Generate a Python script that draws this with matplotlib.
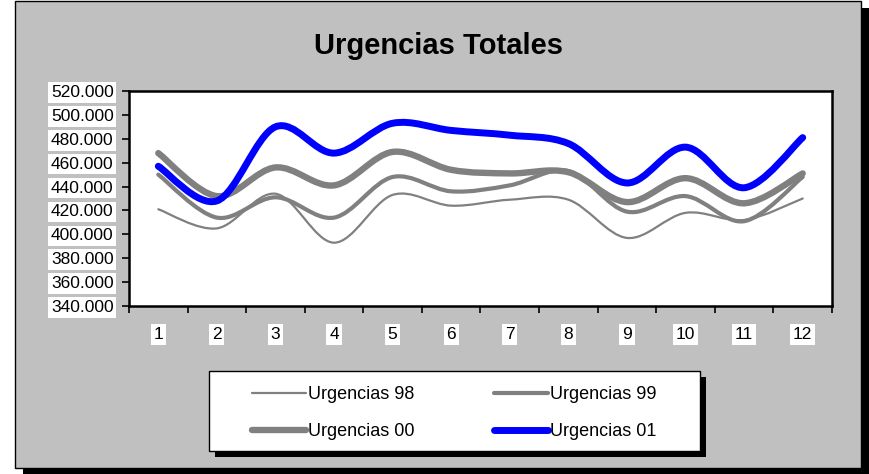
import matplotlib
matplotlib.use("Agg")
import matplotlib.pyplot as plt
from matplotlib.path import Path
from matplotlib.patches import PathPatch, Rectangle
from matplotlib.lines import Line2D
from matplotlib.ticker import FuncFormatter, FixedLocator

plt.rcParams["font.family"] = ["Liberation Sans", "DejaVu Sans"]

months = list(range(1, 13))
urg_98 = [421000, 405000, 434000, 393000, 433000, 424000, 429000, 429000, 397000, 418000, 412000, 430000]
urg_99 = [450000, 414000, 431000, 414000, 448000, 436000, 441000, 453000, 419000, 432000, 411000, 448000]
urg_00 = [468000, 432000, 456000, 441000, 469000, 454000, 451000, 452000, 427000, 447000, 426000, 451000]
urg_01 = [457000, 428000, 490000, 468000, 493000, 487000, 483000, 476000, 443000, 473000, 439000, 481000]

series = [
    ("Urgencias 98", urg_98, "#808080", 1.6),
    ("Urgencias 99", urg_99, "#808080", 3.0),
    ("Urgencias 00", urg_00, "#808080", 4.6),
    ("Urgencias 01", urg_01, "#0000FF", 5.0),
]

W, H = 870, 474
BG = "#C0C0C0"


def smooth_path(xs, ys):
    # excel style smoothed line: cubic bezier through every point
    pts = list(zip(xs, ys))
    n = len(pts)
    verts = [pts[0]]
    codes = [Path.MOVETO]
    for i in range(n - 1):
        p0 = pts[i - 1] if i > 0 else pts[i]
        p1 = pts[i]
        p2 = pts[i + 1]
        p3 = pts[i + 2] if i + 2 < n else pts[i + 1]
        c1 = (p1[0] + (p2[0] - p0[0]) / 6, p1[1] + (p2[1] - p0[1]) / 6)
        c2 = (p2[0] - (p3[0] - p1[0]) / 6, p2[1] - (p3[1] - p1[1]) / 6)
        verts += [c1, c2, p2]
        codes += [Path.CURVE4] * 3
    return Path(verts, codes)


def px(x0, y0, x1, y1):
    # pixel box (top-left origin) -> figure fraction rect
    return (x0 / W, 1 - y1 / H, (x1 - x0) / W, (y1 - y0) / H)


fig = plt.figure(figsize=(W / 100, H / 100), dpi=100, facecolor="white")

# chart area with shadow
x0, y0, w, h = px(15, 1, 861, 468)
fig.patches.append(Rectangle((x0 + 8 / W, y0 - 7 / H), w, h, transform=fig.transFigure,
                             facecolor="black", edgecolor="none", zorder=0))
fig.patches.append(Rectangle((x0, y0), w, h, transform=fig.transFigure,
                             facecolor=BG, edgecolor="black", lw=1, zorder=1))

ax = fig.add_axes(px(129, 91, 832, 306))
ax.set_zorder(4)
ax.set_facecolor("white")

for name, vals, color, lw in series:
    patch = PathPatch(smooth_path(months, vals), fill=False, edgecolor=color, lw=lw,
                      capstyle="round", joinstyle="round")
    ax.add_patch(patch)

ax.set_xlim(0.5, 12.5)
ax.set_ylim(340000, 520000)
ax.set_yticks(range(340000, 520001, 20000))
ax.yaxis.set_major_formatter(FuncFormatter(lambda v, p: f"{v / 1000:.3f}"))

ax.xaxis.set_major_locator(FixedLocator([i + 0.5 for i in range(0, 13)]))
ax.xaxis.set_minor_locator(FixedLocator(months))
ax.set_xticklabels([])
ax.set_xticklabels([str(m) for m in months], minor=True)

ax.tick_params(axis="both", which="major", direction="out", length=5, width=1.2, color="black")
ax.tick_params(axis="x", which="minor", length=0, pad=15, labelsize=12.5)
ax.tick_params(axis="y", labelsize=12.5, pad=6)
for spine in ax.spines.values():
    spine.set_linewidth(1.8)
    spine.set_color("black")

for lab in ax.get_yticklabels() + ax.get_xticklabels(minor=True):
    lab.set_bbox(dict(facecolor="white", edgecolor="none", pad=2))

fig.text(439 / W, 1 - 46 / H, "Urgencias Totales", ha="center", va="center",
         fontsize=21, fontweight="bold")

# legend box with shadow
lx0, ly0, lw_, lh_ = px(209, 371, 700, 451)
fig.patches.append(Rectangle((lx0 + 6 / W, ly0 - 6 / H), lw_, lh_, transform=fig.transFigure,
                             facecolor="black", edgecolor="none", zorder=2))
fig.patches.append(Rectangle((lx0, ly0), lw_, lh_, transform=fig.transFigure,
                             facecolor="white", edgecolor="black", lw=1, zorder=3))

handles = [Line2D([], [], color=c, lw=l, solid_capstyle="round") for _, _, c, l in series]
labels = [s[0] for s in series]
# ncol fills by column, so reorder to get 98/99 on the first row
order = [0, 2, 1, 3]
leg = fig.legend([handles[i] for i in order], [labels[i] for i in order], ncol=2, loc="center",
                 bbox_to_anchor=(lx0 + lw_ / 2, ly0 + lh_ / 2 - 2 / H), frameon=False,
                 fontsize=13, handlelength=3.0, handletextpad=0.1,
                 columnspacing=4.4, labelspacing=1.1)
leg.set_zorder(5)

fig.savefig("out.png", dpi=100, facecolor="white")
